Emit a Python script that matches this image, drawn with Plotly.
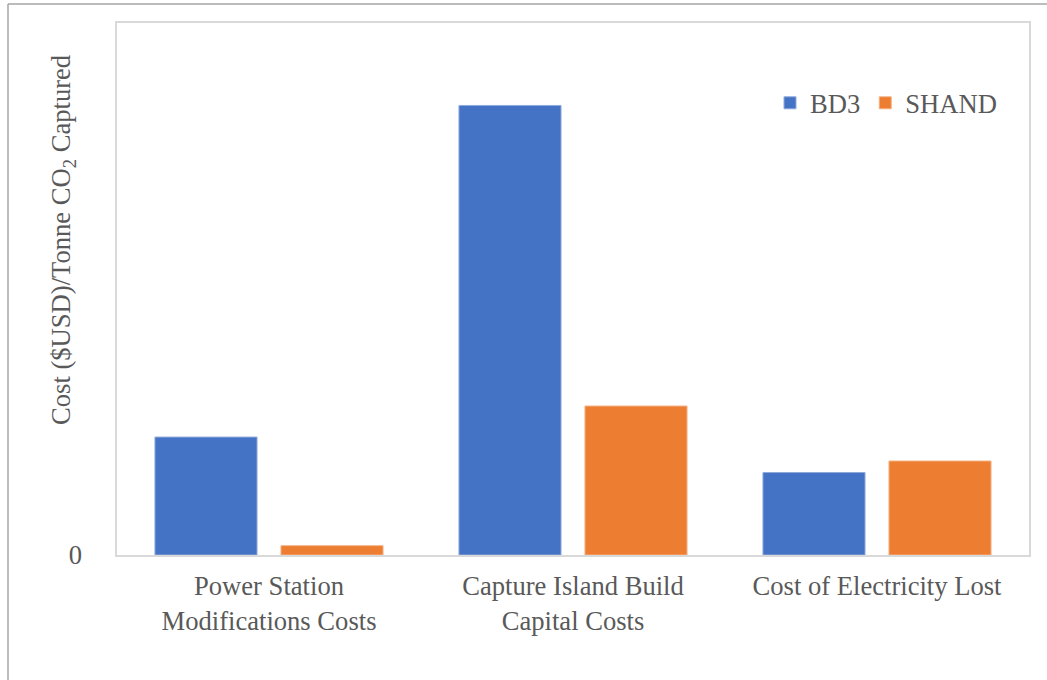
import plotly.graph_objects as go

categories = ["Power Station<br>Modifications Costs", "Capture Island Build<br>Capital Costs", "Cost of Electricity Lost"]
bd3_values = [13.3, 50.7, 9.3]
shand_values = [1.05, 16.8, 10.6]
y_max = 60

FONT = "Liberation Serif"
GRAY = "#595959"
FS = 26.6

fig = go.Figure()
fig.add_trace(go.Bar(name="BD3", x=categories, y=bd3_values,
                     marker=dict(color="#4472C4", line=dict(color="#8FAADC", width=1))))
fig.add_trace(go.Bar(name="SHAND", x=categories, y=shand_values,
                     marker=dict(color="#ED7D31", line=dict(color="#F4B183", width=1))))

L, R, T, B = 117, 18, 23, 125
W, H = 1047, 680
pw, ph = W - L - R, H - T - B

fig.update_layout(
    width=W, height=H,
    margin=dict(l=L, r=R, t=T, b=B, pad=0),
    paper_bgcolor="white", plot_bgcolor="white",
    barmode="group", bargap=0.171, bargroupgap=0.19,
    font=dict(family=FONT, size=FS, color=GRAY),
    showlegend=True,
    legend=dict(orientation="h", x=(770 - L) / pw, xanchor="left",
                y=(H - B - 103) / ph, yanchor="middle",
                font=dict(family=FONT, size=FS, color=GRAY),
                bgcolor="rgba(0,0,0,0)", itemclick=False),
    xaxis=dict(showline=True, linecolor="#D9D9D9", linewidth=2, mirror=True,
               showgrid=False, ticks="", ticklabelstandoff=6,
               tickfont=dict(family=FONT, size=FS, color=GRAY)),
    yaxis=dict(range=[0, y_max], showline=True, linecolor="#D9D9D9", linewidth=1.5, mirror=True,
               showgrid=False, zeroline=False, tickvals=[0], ticktext=["0"],
               ticks="", ticklabelstandoff=28, tickfont=dict(family=FONT, size=FS, color=GRAY)),
    annotations=[
        dict(text="Cost ($USD)/Tonne CO<sub>2</sub> Captured", textangle=-90,
             xref="paper", yref="paper", x=(63 - L) / pw, y=(H - B - 240) / ph,
             xanchor="center", yanchor="middle", showarrow=False,
             font=dict(family=FONT, size=FS, color=GRAY)),
    ],
    shapes=[
        dict(type="line", xref="paper", yref="paper",
             x0=(8 - L) / pw, x1=(W + 20 - L) / pw,
             y0=(H - B - 4) / ph, y1=(H - B - 4) / ph,
             line=dict(color="#A6A6A6", width=1.5)),
        dict(type="line", xref="paper", yref="paper",
             x0=(8 - L) / pw, x1=(8 - L) / pw,
             y0=(H - B - 4) / ph, y1=-(B + 20) / ph,
             line=dict(color="#A6A6A6", width=1.5)),
    ],
)

fig.write_html("out.html")
